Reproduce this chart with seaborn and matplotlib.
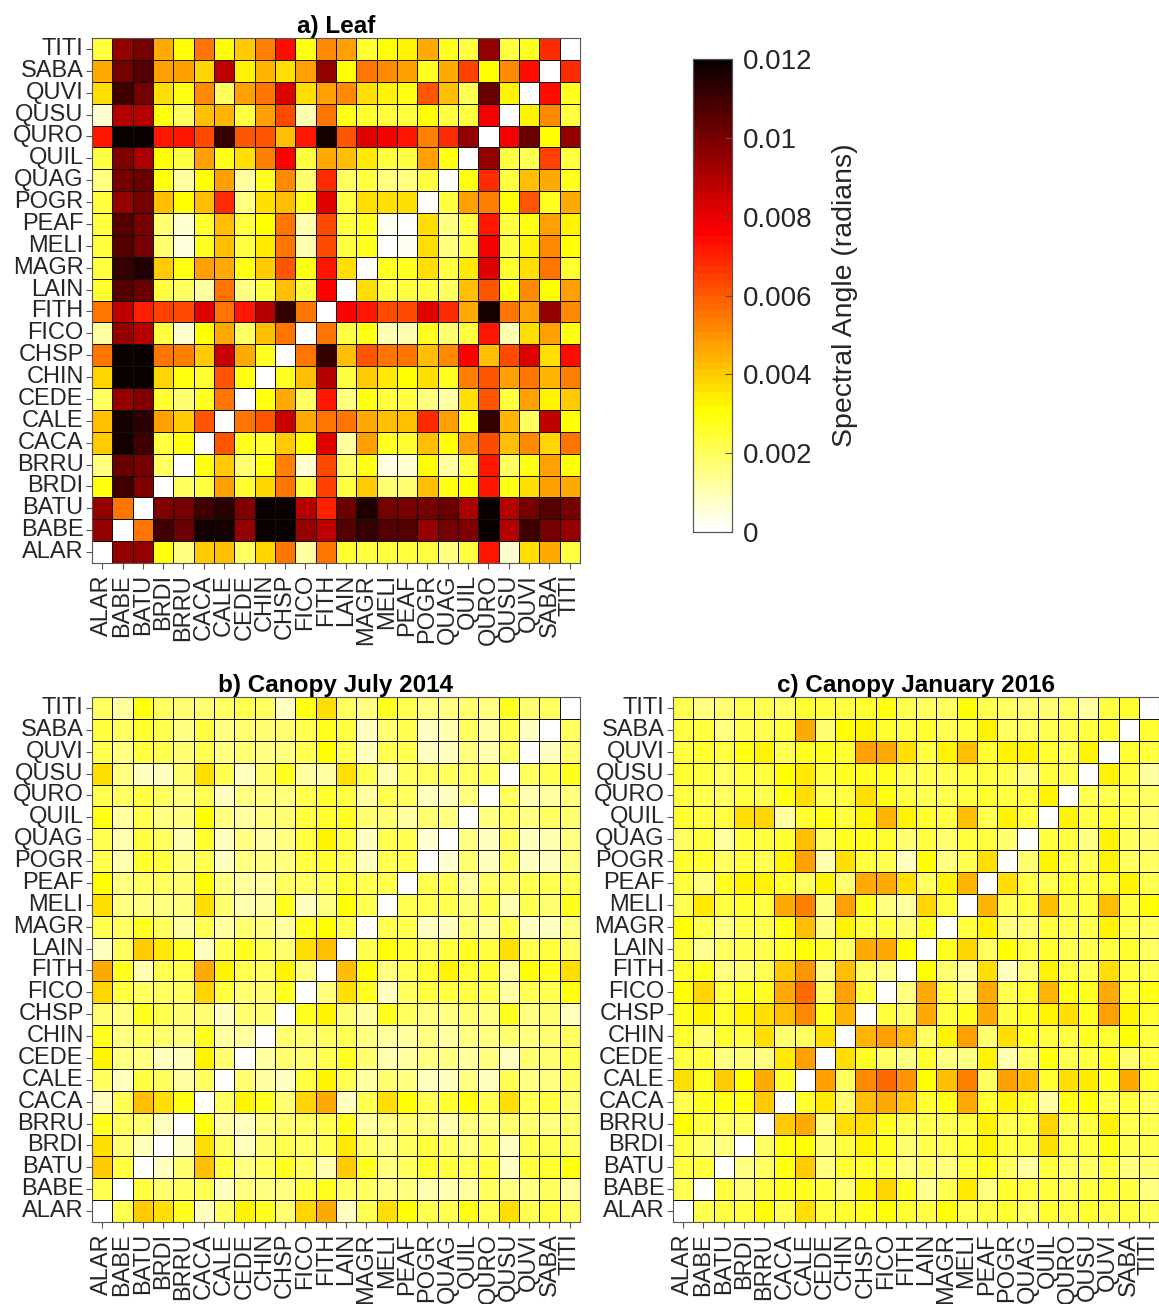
import numpy as np
import pandas as pd
import matplotlib
matplotlib.use("Agg")
import matplotlib.pyplot as plt
from matplotlib.colors import ListedColormap
import seaborn as sns

plt.rcParams['font.family'] = ['Liberation Sans', 'DejaVu Sans']

species = ["ALAR", "BABE", "BATU", "BRDI", "BRRU", "CACA", "CALE", "CEDE",
           "CHIN", "CHSP", "FICO", "FITH", "LAIN", "MAGR", "MELI", "PEAF",
           "POGR", "QUAG", "QUIL", "QURO", "QUSU", "QUVI", "SABA", "TITI"]

# upper triangles: row i holds the values against species i+1 ... TITI
leaf_upper = [
    [0.0094, 0.0095, 0.0029, 0.0016, 0.0040, 0.0043, 0.0019, 0.0039, 0.0056, 0.0013, 0.0056, 0.0025, 0.0023, 0.0024, 0.0024, 0.0023, 0.0016, 0.0023, 0.0073, 0.0007, 0.0036, 0.0046, 0.0023],
    [0.0056, 0.0109, 0.0103, 0.0117, 0.0118, 0.0095, 0.0119, 0.0119, 0.0094, 0.0087, 0.0106, 0.0112, 0.0106, 0.0106, 0.0094, 0.0101, 0.0098, 0.0119, 0.0089, 0.0109, 0.0101, 0.0095],
    [0.0098, 0.0101, 0.0109, 0.0114, 0.0098, 0.0119, 0.0119, 0.0089, 0.0070, 0.0103, 0.0116, 0.0101, 0.0100, 0.0101, 0.0103, 0.0091, 0.0119, 0.0089, 0.0101, 0.0106, 0.0101],
    [0.0019, 0.0023, 0.0048, 0.0025, 0.0039, 0.0056, 0.0023, 0.0065, 0.0024, 0.0040, 0.0018, 0.0018, 0.0042, 0.0029, 0.0031, 0.0073, 0.0029, 0.0037, 0.0048, 0.0046],
    [0.0029, 0.0040, 0.0017, 0.0029, 0.0053, 0.0006, 0.0062, 0.0019, 0.0029, 0.0004, 0.0006, 0.0031, 0.0013, 0.0023, 0.0073, 0.0019, 0.0029, 0.0048, 0.0031],
    [0.0061, 0.0028, 0.0025, 0.0040, 0.0030, 0.0082, 0.0013, 0.0048, 0.0028, 0.0025, 0.0042, 0.0031, 0.0048, 0.0062, 0.0043, 0.0051, 0.0039, 0.0056],
    [0.0056, 0.0060, 0.0085, 0.0046, 0.0055, 0.0056, 0.0046, 0.0042, 0.0042, 0.0068, 0.0048, 0.0029, 0.0112, 0.0044, 0.0019, 0.0087, 0.0031],
    [0.0029, 0.0046, 0.0019, 0.0073, 0.0016, 0.0029, 0.0024, 0.0024, 0.0016, 0.0013, 0.0037, 0.0060, 0.0023, 0.0048, 0.0033, 0.0040],
    [0.0028, 0.0042, 0.0089, 0.0023, 0.0040, 0.0034, 0.0030, 0.0036, 0.0028, 0.0053, 0.0061, 0.0048, 0.0056, 0.0044, 0.0053],
    [0.0056, 0.0112, 0.0042, 0.0060, 0.0056, 0.0056, 0.0043, 0.0051, 0.0076, 0.0042, 0.0062, 0.0082, 0.0036, 0.0074],
    [0.0056, 0.0023, 0.0029, 0.0011, 0.0011, 0.0028, 0.0017, 0.0024, 0.0073, 0.0011, 0.0036, 0.0048, 0.0029],
    [0.0076, 0.0073, 0.0062, 0.0063, 0.0081, 0.0068, 0.0046, 0.0118, 0.0056, 0.0048, 0.0095, 0.0052],
    [0.0036, 0.0024, 0.0024, 0.0023, 0.0019, 0.0043, 0.0060, 0.0029, 0.0051, 0.0030, 0.0048],
    [0.0028, 0.0028, 0.0037, 0.0024, 0.0034, 0.0081, 0.0025, 0.0037, 0.0056, 0.0025],
    [0.0002, 0.0036, 0.0016, 0.0024, 0.0078, 0.0024, 0.0033, 0.0051, 0.0030],
    [0.0036, 0.0016, 0.0023, 0.0073, 0.0024, 0.0029, 0.0048, 0.0033],
    [0.0023, 0.0048, 0.0053, 0.0030, 0.0060, 0.0028, 0.0046],
    [0.0029, 0.0068, 0.0024, 0.0042, 0.0046, 0.0028],
    [0.0095, 0.0023, 0.0021, 0.0065, 0.0024],
    [0.0078, 0.0103, 0.0031, 0.0095],
    [0.0033, 0.0051, 0.0024],
    [0.0074, 0.0027],
    [0.0068],
]

july_upper = [
    [0.0021, 0.0040, 0.0036, 0.0027, 0.0009, 0.0019, 0.0033, 0.0027, 0.0017, 0.0038, 0.0046, 0.0008, 0.0021, 0.0037, 0.0030, 0.0021, 0.0021, 0.0029, 0.0021, 0.0037, 0.0021, 0.0023, 0.0019],
    [0.0023, 0.0017, 0.0019, 0.0021, 0.0008, 0.0015, 0.0015, 0.0015, 0.0023, 0.0027, 0.0019, 0.0019, 0.0015, 0.0015, 0.0011, 0.0011, 0.0013, 0.0019, 0.0015, 0.0015, 0.0019, 0.0013],
    [0.0008, 0.0018, 0.0042, 0.0023, 0.0015, 0.0019, 0.0027, 0.0019, 0.0011, 0.0040, 0.0027, 0.0015, 0.0019, 0.0025, 0.0023, 0.0021, 0.0023, 0.0008, 0.0023, 0.0025, 0.0029],
    [0.0009, 0.0036, 0.0019, 0.0009, 0.0017, 0.0021, 0.0019, 0.0021, 0.0034, 0.0019, 0.0015, 0.0019, 0.0023, 0.0019, 0.0015, 0.0019, 0.0008, 0.0021, 0.0021, 0.0019],
    [0.0029, 0.0013, 0.0009, 0.0015, 0.0017, 0.0019, 0.0021, 0.0027, 0.0013, 0.0015, 0.0017, 0.0015, 0.0011, 0.0015, 0.0015, 0.0017, 0.0017, 0.0015, 0.0017],
    [0.0019, 0.0033, 0.0027, 0.0017, 0.0039, 0.0046, 0.0008, 0.0021, 0.0037, 0.0030, 0.0021, 0.0025, 0.0030, 0.0021, 0.0037, 0.0021, 0.0023, 0.0017],
    [0.0017, 0.0013, 0.0009, 0.0023, 0.0033, 0.0021, 0.0013, 0.0017, 0.0015, 0.0008, 0.0009, 0.0015, 0.0009, 0.0021, 0.0015, 0.0015, 0.0019],
    [0.0013, 0.0017, 0.0017, 0.0021, 0.0027, 0.0017, 0.0011, 0.0013, 0.0015, 0.0015, 0.0013, 0.0015, 0.0008, 0.0017, 0.0017, 0.0021],
    [0.0017, 0.0017, 0.0019, 0.0021, 0.0015, 0.0013, 0.0013, 0.0015, 0.0013, 0.0015, 0.0015, 0.0017, 0.0015, 0.0017, 0.0019],
    [0.0027, 0.0033, 0.0017, 0.0013, 0.0027, 0.0019, 0.0015, 0.0015, 0.0017, 0.0015, 0.0027, 0.0015, 0.0017, 0.0009],
    [0.0015, 0.0037, 0.0027, 0.0008, 0.0019, 0.0023, 0.0023, 0.0023, 0.0021, 0.0013, 0.0021, 0.0021, 0.0029],
    [0.0043, 0.0030, 0.0015, 0.0021, 0.0025, 0.0033, 0.0025, 0.0025, 0.0013, 0.0031, 0.0027, 0.0037],
    [0.0021, 0.0030, 0.0025, 0.0021, 0.0023, 0.0027, 0.0023, 0.0036, 0.0021, 0.0023, 0.0019],
    [0.0021, 0.0021, 0.0008, 0.0009, 0.0017, 0.0013, 0.0021, 0.0008, 0.0009, 0.0015],
    [0.0021, 0.0021, 0.0021, 0.0017, 0.0021, 0.0011, 0.0021, 0.0017, 0.0027],
    [0.0021, 0.0021, 0.0013, 0.0019, 0.0019, 0.0021, 0.0021, 0.0021],
    [0.0006, 0.0017, 0.0009, 0.0019, 0.0008, 0.0009, 0.0015],
    [0.0015, 0.0009, 0.0019, 0.0009, 0.0011, 0.0015],
    [0.0015, 0.0019, 0.0015, 0.0019, 0.0017],
    [0.0019, 0.0011, 0.0013, 0.0015],
    [0.0019, 0.0021, 0.0027],
    [0.0009, 0.0017],
    [0.0019],
]

jan_upper = [
    [0.0021, 0.0023, 0.0023, 0.0030, 0.0021, 0.0036, 0.0023, 0.0025, 0.0027, 0.0030, 0.0025, 0.0023, 0.0030, 0.0021, 0.0023, 0.0025, 0.0019, 0.0025, 0.0023, 0.0025, 0.0023, 0.0023, 0.0021],
    [0.0023, 0.0017, 0.0023, 0.0027, 0.0027, 0.0023, 0.0017, 0.0033, 0.0038, 0.0027, 0.0014, 0.0021, 0.0034, 0.0015, 0.0025, 0.0023, 0.0023, 0.0021, 0.0023, 0.0025, 0.0023, 0.0015],
    [0.0015, 0.0019, 0.0029, 0.0040, 0.0015, 0.0025, 0.0025, 0.0023, 0.0015, 0.0019, 0.0015, 0.0023, 0.0027, 0.0019, 0.0013, 0.0023, 0.0019, 0.0019, 0.0023, 0.0015, 0.0017],
    [0.0019, 0.0029, 0.0030, 0.0017, 0.0023, 0.0033, 0.0027, 0.0017, 0.0021, 0.0021, 0.0025, 0.0033, 0.0023, 0.0023, 0.0036, 0.0023, 0.0023, 0.0029, 0.0021, 0.0021],
    [0.0040, 0.0046, 0.0015, 0.0036, 0.0036, 0.0027, 0.0021, 0.0021, 0.0021, 0.0023, 0.0033, 0.0021, 0.0023, 0.0038, 0.0021, 0.0023, 0.0033, 0.0021, 0.0021],
    [0.0025, 0.0034, 0.0017, 0.0042, 0.0046, 0.0040, 0.0025, 0.0029, 0.0046, 0.0025, 0.0033, 0.0025, 0.0013, 0.0029, 0.0030, 0.0021, 0.0023, 0.0019],
    [0.0048, 0.0019, 0.0052, 0.0058, 0.0050, 0.0031, 0.0042, 0.0053, 0.0019, 0.0048, 0.0042, 0.0025, 0.0037, 0.0035, 0.0027, 0.0046, 0.0025],
    [0.0036, 0.0027, 0.0019, 0.0015, 0.0025, 0.0015, 0.0015, 0.0033, 0.0011, 0.0019, 0.0029, 0.0021, 0.0023, 0.0027, 0.0017, 0.0023],
    [0.0045, 0.0048, 0.0042, 0.0019, 0.0033, 0.0048, 0.0017, 0.0036, 0.0027, 0.0023, 0.0023, 0.0027, 0.0025, 0.0030, 0.0023],
    [0.0023, 0.0019, 0.0046, 0.0023, 0.0027, 0.0046, 0.0023, 0.0027, 0.0033, 0.0036, 0.0027, 0.0048, 0.0033, 0.0025],
    [0.0015, 0.0046, 0.0023, 0.0015, 0.0046, 0.0021, 0.0025, 0.0044, 0.0029, 0.0027, 0.0046, 0.0025, 0.0029],
    [0.0030, 0.0017, 0.0013, 0.0037, 0.0009, 0.0017, 0.0033, 0.0023, 0.0021, 0.0036, 0.0023, 0.0021],
    [0.0027, 0.0039, 0.0019, 0.0030, 0.0023, 0.0025, 0.0021, 0.0021, 0.0023, 0.0025, 0.0019],
    [0.0023, 0.0033, 0.0015, 0.0017, 0.0023, 0.0021, 0.0021, 0.0033, 0.0021, 0.0019],
    [0.0045, 0.0021, 0.0023, 0.0042, 0.0023, 0.0023, 0.0042, 0.0023, 0.0030],
    [0.0037, 0.0023, 0.0021, 0.0025, 0.0023, 0.0025, 0.0033, 0.0021],
    [0.0017, 0.0033, 0.0023, 0.0021, 0.0033, 0.0019, 0.0019],
    [0.0023, 0.0023, 0.0015, 0.0033, 0.0019, 0.0017],
    [0.0033, 0.0023, 0.0025, 0.0021, 0.0017],
    [0.0021, 0.0021, 0.0021, 0.0019],
    [0.0033, 0.0023, 0.0013],
    [0.0025, 0.0023],
    [0.0025],
]

titles = ["a) Leaf", "b) Canopy July 2014", "c) Canopy January 2016"]
cbar_ticks = [0, 0.002, 0.004, 0.006, 0.008, 0.01, 0.012]
cbar_ticklabels = ["0", "0.002", "0.004", "0.006", "0.008", "0.01", "0.012"]


def full_matrix(upper):
    n = len(species)
    m = np.zeros((n, n))
    for i, row in enumerate(upper):
        for k, v in enumerate(row):
            j = i + 1 + k
            m[i, j] = v
            m[j, i] = v
    # rows displayed top-down from TITI to ALAR
    return pd.DataFrame(m[::-1, :], index=species[::-1], columns=species)


# MATLAB-style 'hot' with 64 levels, flipped (white -> yellow -> red -> black)
m = 64
nn = int(3 / 8 * m)
r = np.concatenate([np.arange(1, nn + 1) / nn, np.ones(m - nn)])
g = np.concatenate([np.zeros(nn), np.arange(1, nn + 1) / nn, np.ones(m - 2 * nn)])
b = np.concatenate([np.zeros(2 * nn), np.arange(1, m - 2 * nn + 1) / (m - 2 * nn)])
hot = np.stack([r, g, b], axis=1)[::-1]
cmap = ListedColormap(hot)

W, H = 1159, 1304
fig = plt.figure(figsize=(W / 100, H / 100), dpi=100)

txt = '#262626'
positions = [
    [92 / W, 1 - 563 / H, 488 / W, 525 / H],
    [92 / W, 1 - 1222 / H, 488 / W, 525 / H],
    [673 / W, 1 - 1222 / H, 486 / W, 525 / H],
]
cax = fig.add_axes([693 / W, 1 - 532 / H, 39 / W, 473 / H])

for idx, (upper, title, pos) in enumerate(zip([leaf_upper, july_upper, jan_upper], titles, positions)):
    ax = fig.add_axes(pos)
    df = full_matrix(upper)
    if idx == 0:
        kw = dict(cbar=True, cbar_ax=cax, cbar_kws={'ticks': cbar_ticks})
    else:
        kw = dict(cbar=False)
    sns.heatmap(df, ax=ax, cmap=cmap, vmin=0, vmax=0.012, linewidths=0.7,
                linecolor='#111111', xticklabels=True, yticklabels=True, **kw)
    for s in ax.spines.values():
        s.set_visible(True)
        s.set_color('#555555')
        s.set_linewidth(0.8)
    ax.tick_params(axis='both', length=4, width=0.8, color='#555555',
                   labelsize=17, labelcolor=txt, direction='out')
    ax.tick_params(axis='y', pad=2)
    ax.tick_params(axis='x', pad=4)
    ax.set_xticklabels(species, rotation=90)
    ax.set_yticklabels(species[::-1], rotation=0)
    ax.set_xlabel('')
    ax.set_ylabel('')
    ax.set_title(title, fontsize=17.5, fontweight='bold', color='black', pad=3)

cax.set_yticks(cbar_ticks)
cax.set_yticklabels(cbar_ticklabels)
cax.tick_params(axis='y', direction='in', length=5, width=0.8, color='#555555',
                labelsize=20, labelcolor=txt, pad=8, right=True, left=False)
for s in cax.spines.values():
    s.set_visible(True)
    s.set_color('#555555')
    s.set_linewidth(0.8)
cax.set_ylabel('Spectral Angle (radians)', fontsize=20.5, color=txt, labelpad=14)
cax.yaxis.set_label_position('right')

fig.savefig('out.png', dpi=100)
